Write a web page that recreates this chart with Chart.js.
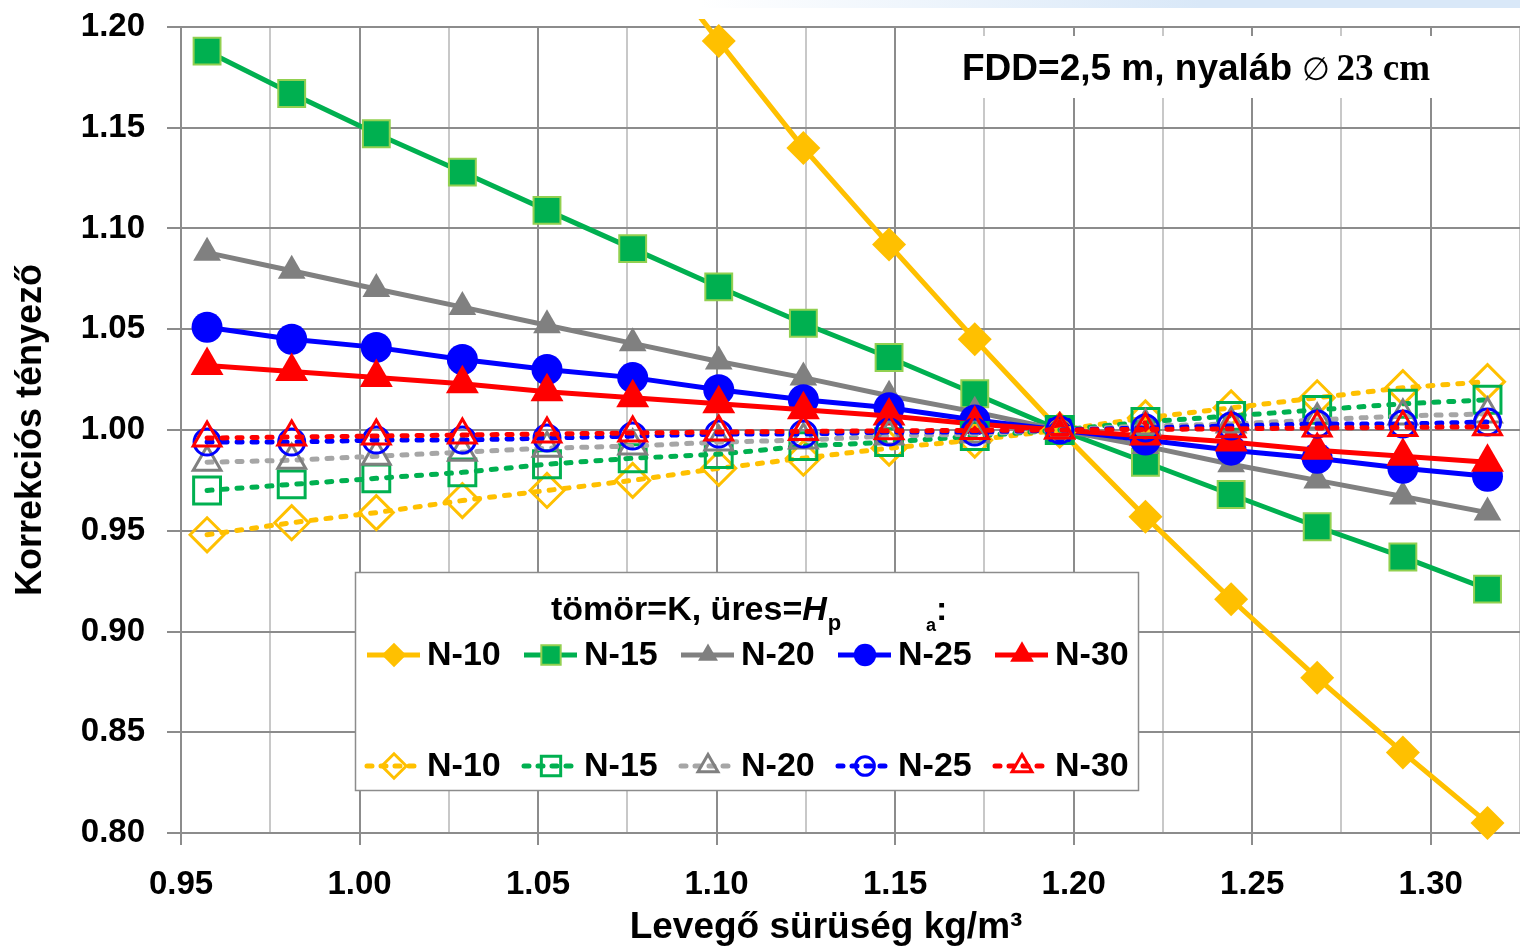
<!DOCTYPE html>
<html>
<head>
<meta charset="utf-8">
<script src="https://cdn.jsdelivr.net/npm/chart.js@4.4.1/dist/chart.umd.min.js"></script>
<style>
    html, body { margin: 0; padding: 0; background: #fff; }
    canvas { display: block; }
</style>
</head>
<body>
<canvas id="corr-chart" width="1520" height="947"></canvas>
<script>
// === Data ===
const airDensity = [0.9573, 0.9810, 1.0047, 1.0288, 1.0525, 1.0765, 1.1006, 1.1243,
                    1.1483, 1.1723, 1.1961, 1.2201, 1.2441, 1.2682, 1.2922, 1.3159];

const seriesLabels = ['N-10', 'N-15', 'N-20', 'N-25', 'N-30'];

// tömör = K
const solidN10 = [1.560, 1.490, 1.426, 1.364, 1.305, 1.248, 1.193, 1.140, 1.092, 1.045, 1.000, 0.957, 0.916, 0.877, 0.840, 0.805];
const solidN15 = [1.188, 1.167, 1.147, 1.128, 1.109, 1.090, 1.071, 1.053, 1.036, 1.018, 1.000, 0.984, 0.968, 0.952, 0.937, 0.921];
const solidN20 = [1.088, 1.079, 1.070, 1.061, 1.052, 1.043, 1.034, 1.026, 1.017, 1.009, 1.000, 0.992, 0.983, 0.975, 0.967, 0.959];
const solidN25 = [1.051, 1.045, 1.041, 1.035, 1.030, 1.026, 1.020, 1.015, 1.011, 1.005, 1.000, 0.995, 0.990, 0.986, 0.981, 0.977];
const solidN30 = [1.032, 1.029, 1.026, 1.023, 1.019, 1.016, 1.013, 1.010, 1.007, 1.003, 1.000, 0.997, 0.994, 0.990, 0.987, 0.984];

// üres = Hp
const openN10 = [0.948, 0.954, 0.959, 0.965, 0.970, 0.975, 0.981, 0.986, 0.991, 0.995, 1.000, 1.006, 1.011, 1.016, 1.021, 1.024];
const openN15 = [0.970, 0.973, 0.976, 0.979, 0.983, 0.986, 0.988, 0.992, 0.994, 0.997, 1.000, 1.004, 1.007, 1.010, 1.013, 1.015];
const openN20 = [0.984, 0.985, 0.987, 0.989, 0.991, 0.992, 0.994, 0.995, 0.997, 0.998, 1.000, 1.002, 1.003, 1.005, 1.007, 1.008];
const openN25 = [0.994, 0.994, 0.995, 0.995, 0.996, 0.997, 0.998, 0.998, 0.999, 0.999, 1.000, 1.001, 1.002, 1.003, 1.003, 1.004];
const openN30 = [0.996, 0.9965, 0.997, 0.9975, 0.998, 0.9985, 0.999, 0.9993, 0.9996, 0.9998, 1.000, 1.0003, 1.0006, 1.001, 1.0013, 1.0016];

const xMin = 0.95, xMax = 1.325, xStep = 0.025;
const yMin = 0.80, yMax = 1.20, yStep = 0.05;

// === Styles ===
const FONT = '"Liberation Sans", Arial, sans-serif';
const GRID_DARK = '#8c8c8c';
const GRID_LIGHT = '#c8c8c8';

const solidStyle = [
    { color: '#FFC000', shape: 'rectRot',  r: 17,   border: '#FFC000', bw: 0 },
    { color: '#00B050', shape: 'rect',     r: 19,   border: '#92D050', bw: 2 },
    { color: '#808080', shape: 'triangle', r: 16,   border: '#808080', bw: 0 },
    { color: '#0000FF', shape: 'circle',   r: 15.5, border: '#0000FF', bw: 0 },
    { color: '#FF0000', shape: 'triangle', r: 19,   border: '#FF0000', bw: 0 },
];
const openStyle = [
    { color: '#FFC000', line: '#FFC000', shape: 'rectRot',  r: 17 },
    { color: '#00B050', line: '#00B050', shape: 'rect',     r: 19 },
    { color: '#808080', line: '#A6A6A6', shape: 'triangle', r: 16 },
    { color: '#0000FF', line: '#0000FF', shape: 'circle',   r: 13 },
    { color: '#FF0000', line: '#FF0000', shape: 'triangle', r: 16 },
];

function toPoints(vals) {
    return airDensity.map((x, i) => ({ x: x, y: vals[i] }));
}

function isMajor(v) {
    return Math.round(v * 1000) % 50 === 0;
}

const solidSets = [solidN10, solidN15, solidN20, solidN25, solidN30].map((vals, i) => ({
    label: seriesLabels[i],
    data: toPoints(vals),
    borderColor: solidStyle[i].color,
    borderWidth: 5,
    pointStyle: solidStyle[i].shape,
    pointRadius: solidStyle[i].r,
    pointHoverRadius: solidStyle[i].r,
    pointBackgroundColor: solidStyle[i].color,
    pointBorderColor: solidStyle[i].border,
    pointBorderWidth: solidStyle[i].bw,
}));

const openSets = [openN10, openN15, openN20, openN25, openN30].map((vals, i) => ({
    label: seriesLabels[i],
    data: toPoints(vals),
    borderColor: openStyle[i].line,
    borderWidth: 5,
    borderDash: [5, 10],
    borderCapStyle: 'round',
    pointStyle: openStyle[i].shape,
    pointRadius: openStyle[i].r,
    pointHoverRadius: openStyle[i].r,
    pointBackgroundColor: 'rgba(0,0,0,0)',
    pointBorderColor: openStyle[i].color,
    pointBorderWidth: 3,
}));

// later series drawn on top, as in the original
const datasets = solidSets.concat(openSets).map((ds, i, all) => Object.assign(ds, {
    order: all.length - i,
    tension: 0,
    clip: 8,
}));

// === Decorations: background band, title box, legend, x title ===
const decorPlugin = {
    id: 'decor',
    beforeDraw(chart) {
        const ctx = chart.ctx;
        ctx.save();
        ctx.fillStyle = '#fff';
        ctx.fillRect(0, 0, chart.width, chart.height);
        const g = ctx.createLinearGradient(700, 0, 1200, 0);
        g.addColorStop(0, 'rgba(217,232,248,0)');
        g.addColorStop(1, 'rgba(217,232,248,1)');
        ctx.fillStyle = g;
        ctx.fillRect(700, 0, chart.width - 700, 8);
        ctx.restore();
    },
    afterDatasetsDraw(chart) {
        const ctx = chart.ctx;
        const area = chart.chartArea;
        ctx.save();

        // title box (upper right)
        ctx.fillStyle = '#fff';
        ctx.fillRect(945, area.top + 9, area.right - 950, 62);
        ctx.fillStyle = '#000';
        ctx.textBaseline = 'alphabetic';
        ctx.textAlign = 'left';
        ctx.font = 'bold 37px ' + FONT;
        const t1 = 'FDD=2,5 m, nyaláb ';
        ctx.fillText(t1, 962, 80);
        const w1 = ctx.measureText(t1).width;
        ctx.font = '32px "DejaVu Serif", serif';
        ctx.fillText('\u2205', 962 + w1, 80);
        const w2 = ctx.measureText('\u2205 ').width;
        ctx.font = 'bold 37px "Liberation Serif", serif';
        ctx.fillText('23 cm', 962 + w1 + w2 - 4, 80);

        // legend box
        const lx = 355, ly = 572, lw = 783, lh = 218;
        ctx.fillStyle = '#fff';
        ctx.fillRect(lx, ly, lw, lh);
        ctx.strokeStyle = GRID_DARK;
        ctx.lineWidth = 1.5;
        ctx.strokeRect(lx + 0.5, ly + 0.5, lw, lh);

        // legend title
        ctx.fillStyle = '#000';
        ctx.font = 'bold 34px ' + FONT;
        let tx = 551;
        const head = 'tömör=K, üres=';
        ctx.fillText(head, tx, 620);
        tx += ctx.measureText(head).width;
        ctx.font = 'italic bold 34px ' + FONT;
        ctx.fillText('H', tx, 620);
        tx += ctx.measureText('H').width + 1;
        ctx.font = 'bold 22px ' + FONT;
        ctx.fillText('p', tx, 630);
        ctx.font = 'bold 18px ' + FONT;
        ctx.fillText('a', 926, 631);
        ctx.font = 'bold 34px ' + FONT;
        ctx.fillText(':', 936, 620);

        // legend entries
        chart.data.datasets.forEach((ds, i) => {
            const row = i < 5 ? 0 : 1;
            const col = i % 5;
            const x0 = 367 + col * 157;
            const y = row === 0 ? 655 : 766;
            ctx.save();
            ctx.strokeStyle = ds.borderColor;
            ctx.lineWidth = 5;
            ctx.lineCap = ds.borderDash ? 'round' : 'butt';
            ctx.setLineDash(ds.borderDash ? [5, 9] : []);
            ctx.beginPath();
            ctx.moveTo(x0, y);
            ctx.lineTo(x0 + 53, y);
            ctx.stroke();
            ctx.setLineDash([]);
            ctx.fillStyle = ds.pointBackgroundColor;
            ctx.strokeStyle = ds.pointBorderColor;
            ctx.lineWidth = ds.pointBorderWidth;
            Chart.helpers.drawPoint(ctx, {
                pointStyle: ds.pointStyle,
                radius: ds.pointRadius * 0.72,
                rotation: 0,
                borderWidth: ds.pointBorderWidth,
            }, x0 + 27, y);
            ctx.restore();
            ctx.fillStyle = '#000';
            ctx.font = 'bold 34px ' + FONT;
            ctx.textBaseline = 'middle';
            ctx.fillText(ds.label, x0 + 60, y + 1);
            ctx.textBaseline = 'alphabetic';
        });

        // x axis title
        ctx.fillStyle = '#000';
        ctx.font = 'bold 37px ' + FONT;
        ctx.textAlign = 'center';
        ctx.textBaseline = 'middle';
        ctx.fillText('Levegő sürüség kg/m³', 826, 928);

        ctx.restore();
    }
};

// === Chart ===
const ctx = document.getElementById('corr-chart').getContext('2d');

new Chart(ctx, {
    type: 'line',
    data: { datasets: datasets },
    plugins: [decorPlugin],
    options: {
        responsive: false,
        animation: false,
        events: [],
        layout: {
            autoPadding: false,
            padding: { top: 27, right: 0, left: 0, bottom: 0 },
        },
        plugins: {
            legend: { display: false },
            tooltip: { enabled: false },
        },
        scales: {
            x: {
                type: 'linear',
                min: xMin,
                max: xMax,
                afterFit: (scale) => {
                    scale.height = 114;
                    scale.paddingLeft = 0;
                    scale.paddingRight = 0;
                },
                ticks: {
                    stepSize: xStep,
                    autoSkip: false,
                    maxRotation: 0,
                    padding: 20,
                    color: '#000',
                    font: { family: FONT, size: 33, weight: 'bold' },
                    callback: (v) => isMajor(v) ? v.toFixed(2) : '',
                },
                grid: {
                    lineWidth: 2,
                    tickLength: 12,
                    color: (c) => isMajor(c.tick.value) ? GRID_DARK : GRID_LIGHT,
                    tickColor: (c) => isMajor(c.tick.value) ? GRID_DARK : 'rgba(0,0,0,0)',
                },
                border: { color: GRID_DARK, width: 2 },
            },
            y: {
                min: yMin,
                max: yMax,
                afterFit: (scale) => {
                    scale.width = 181;
                    scale.paddingTop = 0;
                    scale.paddingBottom = 0;
                },
                ticks: {
                    stepSize: yStep,
                    padding: 22,
                    color: '#000',
                    font: { family: FONT, size: 33, weight: 'bold' },
                    callback: (v) => v.toFixed(2),
                },
                grid: {
                    lineWidth: 2,
                    tickLength: 14,
                    color: GRID_DARK,
                    tickColor: GRID_DARK,
                },
                border: { color: GRID_DARK, width: 2 },
                title: {
                    display: true,
                    text: 'Korrekciós tényező',
                    color: '#000',
                    font: { family: FONT, size: 36, weight: 'bold' },
                    padding: { top: 9, bottom: 0 },
                },
            },
        },
    },
});
</script>
</body>
</html>
